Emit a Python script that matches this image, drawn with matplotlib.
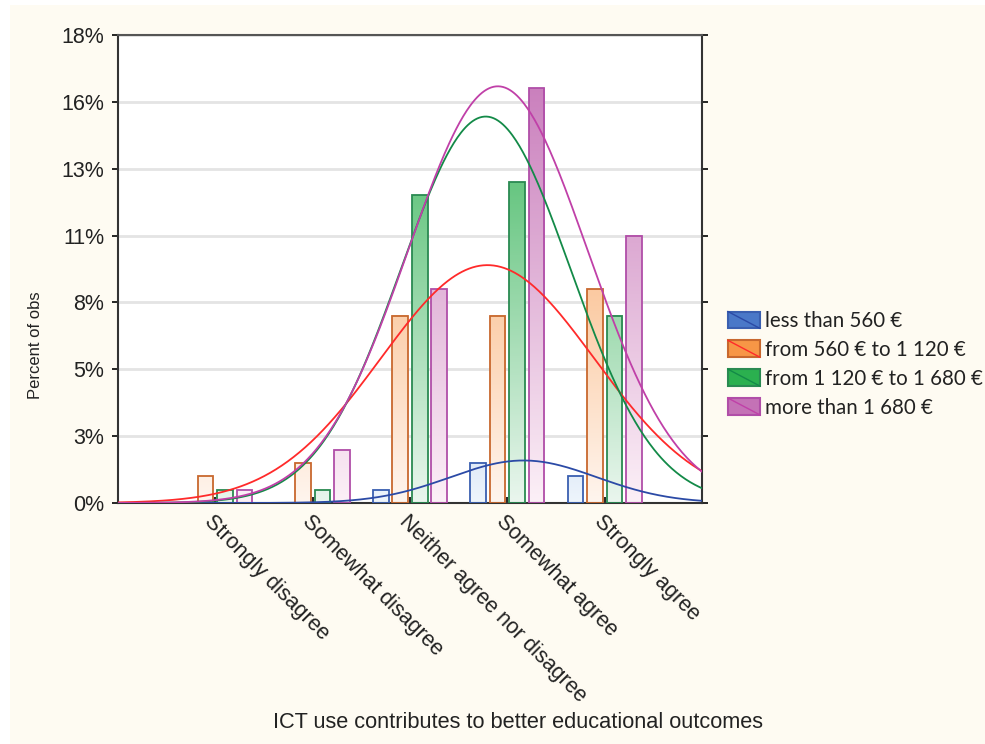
import numpy as np
import matplotlib.pyplot as plt
from matplotlib.colors import LinearSegmentedColormap
from matplotlib.patches import Rectangle
from matplotlib.lines import Line2D
from matplotlib.legend_handler import HandlerBase

# Datos (número de observaciones por categoría y grupo de ingresos)
categories = ['Strongly disagree', 'Somewhat disagree', 'Neither agree nor disagree',
              'Somewhat agree', 'Strongly agree']
groups = ['less than 560 €', 'from 560 € to 1 120 €',
          'from 1 120 € to 1 680 €', 'more than 1 680 €']
counts_low = [0, 0, 1, 3, 2]
counts_mid = [2, 3, 14, 14, 16]
counts_high = [1, 1, 23, 24, 14]
counts_top = [1, 4, 16, 31, 20]
all_counts = [counts_low, counts_mid, counts_high, counts_top]

fill_colors = ['#4a78c8', '#f79646', '#2bb04f', '#c472b6']
edge_colors = ['#3a5fb0', '#c8682e', '#2a8a52', '#b04ea8']
curve_colors = ['#2b4aa6', '#ff2a2a', '#138a48', '#c040a8']
light_colors = ['#eef5fc', '#fff5ee', '#eaf6ee', '#fcf0f7']

total = sum(sum(c) for c in all_counts)
step = 5 / total * 100          # una marca cada 5 observaciones
ymax = 7 * step

x_cat = np.arange(1, len(categories) + 1)
bar_w = 0.16
offsets = [-0.3, -0.1, 0.1, 0.3]

fig = plt.figure(figsize=(9.85, 7.44), dpi=100, facecolor='white')
fig.patches.append(Rectangle((10 / 985, 0), 1, 1 - 5 / 744, transform=fig.transFigure,
                             facecolor='#fefbf2', edgecolor='none', zorder=-10))
ax = fig.add_axes([118 / 985, 1 - 503 / 744, (702 - 118) / 985, (503 - 35) / 744])
ax.set_facecolor('white')

# Barras con degradado (claro abajo, color pleno arriba)
for g, counts in enumerate(all_counts):
    cmap = LinearSegmentedColormap.from_list('g%d' % g, [light_colors[g], fill_colors[g]])
    for xc, c in zip(x_cat, counts):
        if c == 0:
            continue
        h = c / total * 100
        x0 = xc + offsets[g] - bar_w / 2
        grad = np.linspace(0, h, 200).reshape(-1, 1)
        ax.imshow(grad, extent=[x0, x0 + bar_w, 0, h], origin='lower', cmap=cmap,
                  vmin=0, vmax=ymax, aspect='auto', zorder=2, interpolation='bilinear')
        ax.add_patch(Rectangle((x0, 0), bar_w, h, fill=False,
                               edgecolor=edge_colors[g], lw=1.3, zorder=3))

# Curvas normales ajustadas a cada grupo
xs = np.linspace(0, 6, 500)
for g, counts in enumerate(all_counts):
    vals = np.repeat(x_cat, counts)
    m = vals.mean()
    s = vals.std(ddof=1)
    ys = len(vals) / total * 100 * np.exp(-0.5 * ((xs - m) / s) ** 2) / (s * np.sqrt(2 * np.pi))
    ax.plot(xs, ys, color=curve_colors[g], lw=1.3, zorder=4)

ax.set_xlim(0, 6)
ax.set_ylim(0, ymax)

yt = np.arange(8) * step
ax.set_yticks(yt)
ax.set_yticklabels(['%.0f%%' % v for v in yt], fontsize=15.5, family='Liberation Sans',
                   color='#222222')
ax.tick_params(axis='y', direction='out', length=4, width=1.2, pad=6, right=True)
ax.yaxis.grid(True, color='#e4e4e4', lw=2)
ax.set_axisbelow(True)

ax.set_xticks(x_cat)
ax.set_xticklabels(categories, rotation=-45, ha='left', va='top', rotation_mode='anchor',
                   fontsize=15.5, family='Liberation Sans', color='#222222')
ax.tick_params(axis='x', direction='in', length=4, width=1.2, pad=6)

for sp in ax.spines.values():
    sp.set_color('#333333')
    sp.set_linewidth(1.5)
ax.spines['top'].set_color('#555555')

fig.text(35 / 985, 1 - 345 / 744, 'Percent of obs', rotation=90, ha='center', va='center',
         fontsize=12, family=['Liberation Sans Narrow', 'Liberation Sans'], color='#222222')
fig.text(518 / 985, 1 - 722 / 744, 'ICT use contributes to better educational outcomes',
         ha='center', va='center', fontsize=15.7, family='Liberation Sans', color='#222222')


# Leyenda: caja de color cruzada por la línea de la curva
class BoxLine(HandlerBase):
    def create_artists(self, legend, orig, xd, yd, w, h, fs, trans):
        g = orig.get_gid()
        r = Rectangle((-xd, -yd), w, h, facecolor=fill_colors[g], edgecolor=edge_colors[g],
                      lw=1.5, transform=trans)
        ln = Line2D([-xd, -xd + w], [-yd + h, -yd], color=curve_colors[g], lw=1, transform=trans)
        return [r, ln]


handles = []
for g in range(4):
    p = Rectangle((0, 0), 1, 1)
    p.set_gid(g)
    handles.append(p)
ax.legend(handles, groups, handler_map={Rectangle: BoxLine()},
          loc='upper left', bbox_to_anchor=(728 / 985, 1 - 311 / 744),
          bbox_transform=fig.transFigure, frameon=False, borderpad=0, borderaxespad=0,
          handlelength=1.54, handleheight=0.87, handletextpad=0.25, labelspacing=0.43,
          prop={'family': 'Lato', 'size': 14.8}, labelcolor='#222222')

fig.savefig('out.png', dpi=100, facecolor=fig.get_facecolor())
